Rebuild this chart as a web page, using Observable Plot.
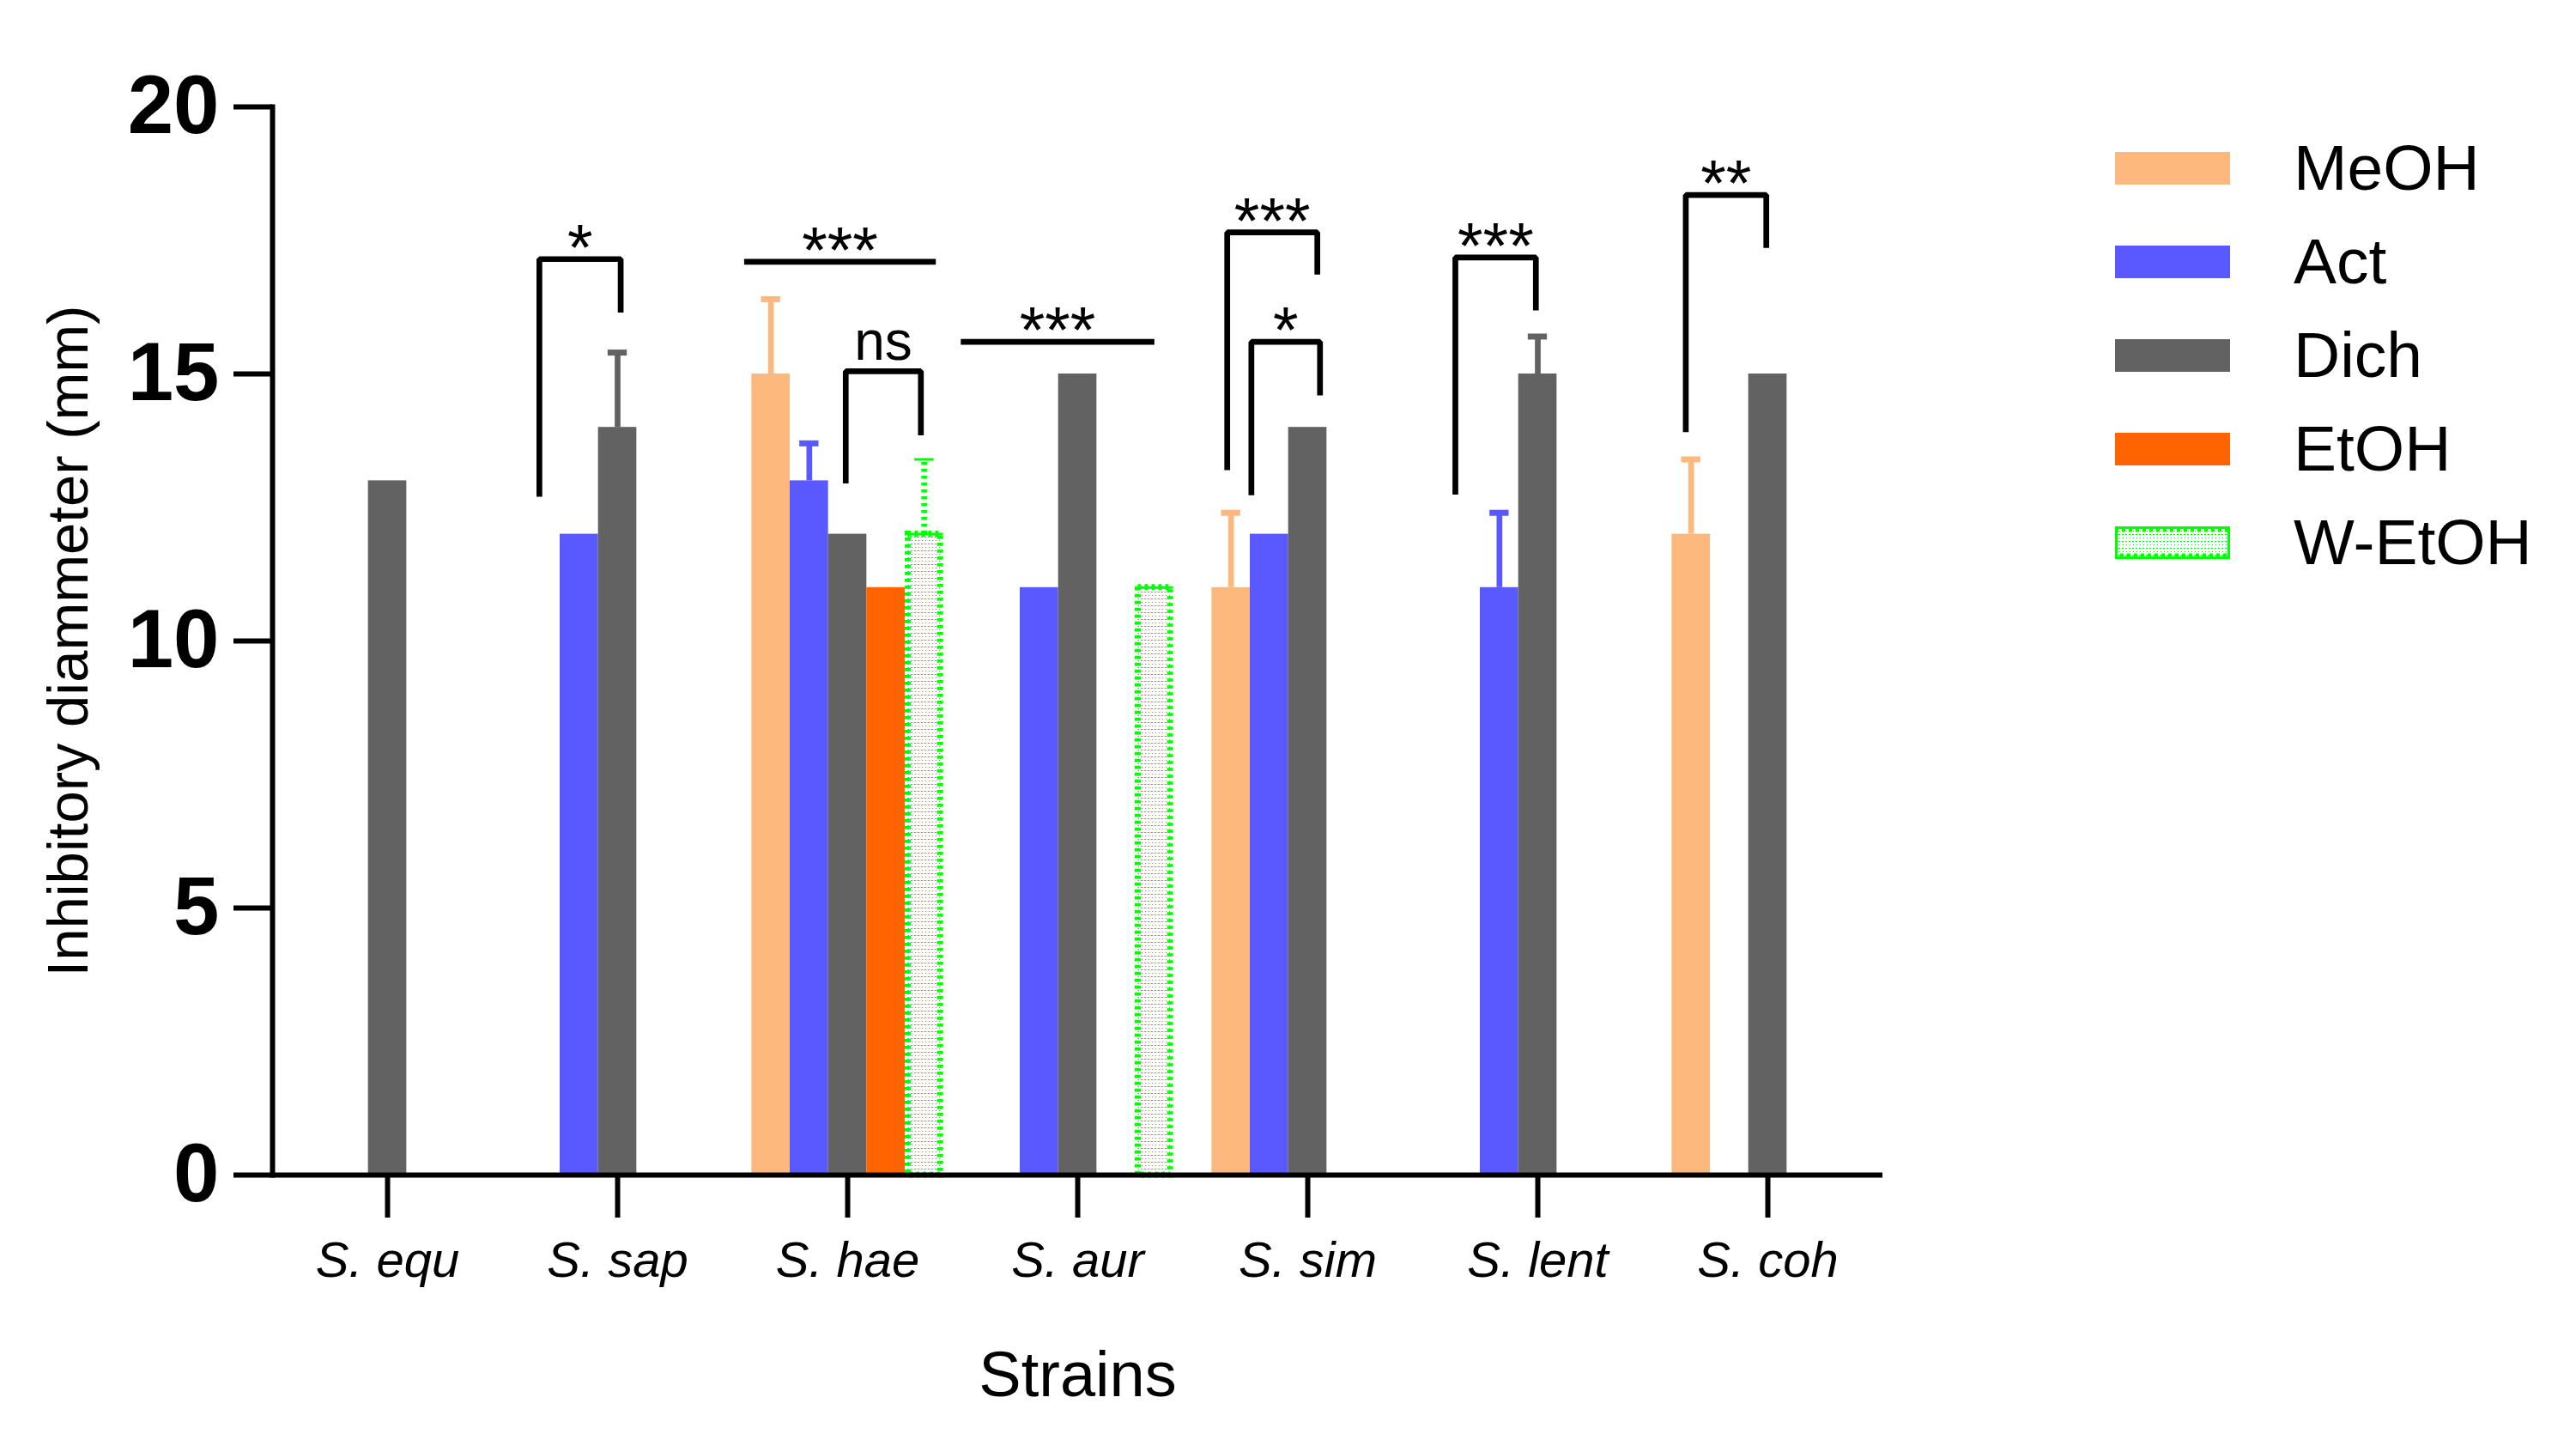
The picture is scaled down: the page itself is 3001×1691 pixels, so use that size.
<!DOCTYPE html>
<html>
<head>
<meta charset="utf-8">
<script src="https://cdn.jsdelivr.net/npm/d3@7"></script>
<script src="https://cdn.jsdelivr.net/npm/@observablehq/plot@0.6"></script>
<style>
  body { margin: 0; background: #fff; }
  #wrap { position: relative; width: 3001px; height: 1691px; font-family: "Liberation Sans", Arial, sans-serif; }
  #chart { position: absolute; left: 0; top: 0; }
  #legend { position: absolute; left: 2464px; top: 141px; }
  .row { display: flex; align-items: center; height: 109px; }
  .sw { width: 134px; height: 38px; }
  .lab { margin-left: 74px; font-size: 75px; line-height: 1; color: #000; }
  g[aria-label="fx-axis label"] { font-size: 74px; font-style: normal; }
  g[aria-label="y-axis label"] { font-size: 67px; font-weight: normal; }
</style>
</head>
<body>
<div id="wrap">
  <div id="chart"></div>
  <div id="legend"></div>
</div>
<script>
const strains = ['S. equ', 'S. sap', 'S. hae', 'S. aur', 'S. sim', 'S. lent', 'S. coh']
const solvents = ['MeOH', 'Act', 'Dich', 'EtOH', 'W-EtOH']
const colors = ['#fdb97d', '#5959ff', '#626262', '#ff6400', '#00ff00']
const yTicks = [0, 5, 10, 15, 20]

// inhibition zone (mm), one array per solvent, same order as strains
const meoh = [null, null, 15, null, 11, null, 12]
const act = [null, 12, 13, 11, 12, 11, null]
const dich = [13, 14, 12, 15, 14, 15, 15]
const etoh = [null, null, 11, null, null, null, null]
const wetoh = [null, null, 12, 11, null, null, null]

// upper error bars
const meohSd = [null, null, 1.4, null, 1.4, null, 1.4]
const actSd = [null, null, 0.7, null, null, 1.4, null]
const dichSd = [null, 1.4, null, null, null, 0.7, null]
const etohSd = [null, null, null, null, null, null, null]
const wetohSd = [null, null, 1.4, null, null, null, null]

// significance brackets (x in bar-slot units inside a strain group)
const sigStrain = ['S. sap', 'S. hae', 'S. hae', 'S. aur', 'S. sim', 'S. sim', 'S. lent', 'S. coh']
const sigFrom = [0.46, -0.2, 2.45, -0.55, 0.4, 1.03, 0.35, 0.36]
const sigTo = [2.58, 4.8, 4.41, 4.5, 2.75, 2.82, 2.45, 2.46]
const sigTop = [17.15, 17.1, 15.05, 15.6, 17.65, 15.6, 17.18, 18.35]
const sigLeftEnd = [12.7, null, 12.95, null, 13.2, 12.73, 12.74, 13.91]
const sigRightEnd = [16.15, null, 13.85, null, 16.86, 14.6, 16.19, 17.36]
const sigLabel = ['*', '***', 'ns', '***', '***', '*', '***', '**']

const means = [meoh, act, dich, etoh, wetoh]
const sds = [meohSd, actSd, dichSd, etohSd, wetohSd]

let rows = []
strains.forEach((s, j) => {
  solvents.forEach((v, i) => {
    if (means[i][j] != null) rows.push({strain: s, solvent: v, slot: i, value: means[i][j], sd: sds[i][j]})
  })
})
let solid = rows.filter(d => d.solvent != 'W-EtOH')
let wet = rows.filter(d => d.solvent == 'W-EtOH')
let errs = solid.filter(d => d.sd != null)
let wetErrs = wet.filter(d => d.sd != null)

let sigs = sigStrain.map((s, k) => ({strain: s, from: sigFrom[k], to: sigTo[k], top: sigTop[k], label: sigLabel[k]}))
let sigPts = []
sigStrain.forEach((s, k) => {
  if (sigLeftEnd[k] != null) sigPts.push({id: k, strain: s, x: sigFrom[k], y: sigLeftEnd[k]})
  sigPts.push({id: k, strain: s, x: sigFrom[k], y: sigTop[k]})
  sigPts.push({id: k, strain: s, x: sigTo[k], y: sigTop[k]})
  if (sigRightEnd[k] != null) sigPts.push({id: k, strain: s, x: sigTo[k], y: sigRightEnd[k]})
})

const green = colors[4]

const chart = Plot.plot({
  width: 3001,
  height: 1691,
  marginTop: 124,
  marginRight: 808,
  marginBottom: 323,
  marginLeft: 316,
  style: {fontFamily: '"Liberation Sans", Arial, sans-serif', color: '#000', background: '#fff'},
  fx: {domain: strains, padding: 0},
  x: {domain: [-0.5, 5.5], axis: null},
  y: {domain: [0, 20]},
  color: {domain: solvents, range: colors},
  marks: [
    Plot.rectY(solid, {fx: 'strain', x1: 'slot', x2: d => d.slot + 1, y1: 0, y2: 'value', fill: 'solvent'}),
    Plot.rectY(wet, {
      fx: 'strain', x1: 'slot', x2: d => d.slot + 1, y1: 0, y2: 'value',
      fill: 'url(#wetoh-fill)', stroke: green, strokeWidth: 7, strokeDasharray: '3.7 4.3',
      insetLeft: 3.5, insetRight: 3.5,
    }),
    Plot.ruleY(wet, {fx: 'strain', x1: 'slot', x2: d => d.slot + 1, y: 'value', stroke: green, strokeWidth: 3}),
    Plot.ruleX(errs, {fx: 'strain', x: d => d.slot + 0.5, y1: 'value', y2: d => d.value + d.sd, stroke: 'solvent', strokeWidth: 6.7}),
    Plot.ruleY(errs, {fx: 'strain', x1: d => d.slot + 0.25, x2: d => d.slot + 0.75, y: d => d.value + d.sd, stroke: 'solvent', strokeWidth: 7}),
    Plot.ruleX(wetErrs, {fx: 'strain', x: d => d.slot + 0.5, y1: 'value', y2: d => d.value + d.sd, stroke: green, strokeWidth: 7, strokeDasharray: '3.7 4.3'}),
    Plot.ruleY(wetErrs, {fx: 'strain', x1: d => d.slot + 0.25, x2: d => d.slot + 0.75, y: d => d.value + d.sd, stroke: green, strokeWidth: 3}),
    Plot.line(sigPts, {fx: 'strain', x: 'x', y: 'y', z: 'id', stroke: '#000', strokeWidth: 6.7, strokeLinejoin: 'miter', strokeLinecap: 'butt'}),
    Plot.text(sigs, {filter: d => d.label != 'ns', fx: 'strain', x: d => (d.from + d.to) / 2, y: 'top', text: 'label', fontSize: 76, lineAnchor: 'bottom', dy: 12}),
    Plot.text(sigs, {filter: d => d.label == 'ns', fx: 'strain', x: d => (d.from + d.to) / 2, y: 'top', text: 'label', fontSize: 64, lineAnchor: 'bottom', dy: -13}),
    Plot.ruleY([0], {strokeWidth: 6}),
    Plot.frame({anchor: 'left', facetAnchor: 'left', strokeWidth: 6}),
    Plot.axisY({
      ticks: yTicks, tickSize: 45, tickPadding: 17, strokeWidth: 6,
      fontSize: 96, fontWeight: 'bold',
      label: 'Inhibitory diammeter (mm)', labelAnchor: 'center', labelArrow: 'none', labelOffset: 263,
    }),
    Plot.axisFx({
      anchor: 'bottom', tickSize: 50, tickPadding: 27, strokeWidth: 6,
      fontSize: 58, fontStyle: 'italic',
      label: 'Strains', labelAnchor: 'center', labelArrow: 'none', labelOffset: 257,
    }),
  ],
})

// dotted fill for the W-EtOH bars
const patternDef = `<pattern id="PID" patternUnits="userSpaceOnUse" width="8" height="8">
  <rect width="8" height="8" fill="#fff"/>
  <rect x="0" y="1" width="2" height="1" fill="${green}"/>
  <rect x="4" y="1" width="2" height="1" fill="${green}"/>
  <rect x="1" y="5" width="1" height="1" fill="${green}"/>
  <rect x="5" y="5" width="1" height="1" fill="${green}"/>
</pattern>`
d3.select(chart).insert('defs', ':first-child').html(patternDef.replace('PID', 'wetoh-fill'))
d3.select('#chart').append(() => chart)

// legend
const legend = d3.select('#legend')
solvents.forEach((s, i) => {
  const row = legend.append('div').attr('class', 'row')
  if (s == 'W-EtOH') {
    row.append('div').attr('class', 'sw').html(
      `<svg width="134" height="38"><defs>${patternDef.replace('PID', 'wetoh-leg')}</defs>
       <rect x="1.5" y="1.5" width="131" height="35" fill="url(#wetoh-leg)" stroke="${green}" stroke-width="3"/>
       <rect x="0" y="4" width="134" height="30" fill="none" stroke="${green}" stroke-width="5" stroke-dasharray="4 4"/></svg>`)
  } else {
    row.append('div').attr('class', 'sw').style('background', colors[i])
  }
  row.append('div').attr('class', 'lab').text(s)
})
</script>
</body>
</html>
